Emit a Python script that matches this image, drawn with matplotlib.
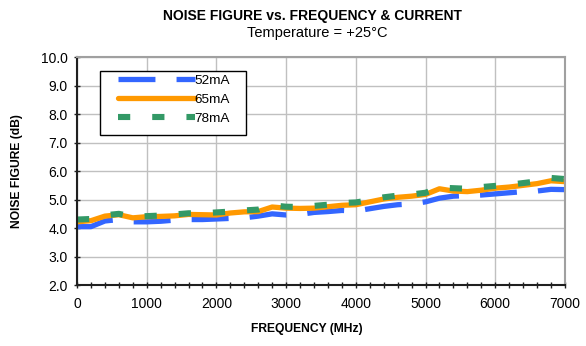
#!/usr/bin/env python3

import matplotlib
matplotlib.use('Agg')
import matplotlib.pyplot as plt
from matplotlib.patches import Rectangle
from matplotlib.ticker import MultipleLocator

plt.rcParams['font.family'] = ['Liberation Sans', 'DejaVu Sans']

freq_mhz = [0, 200, 400, 600, 800, 1000, 1200, 1400, 1600, 1800,
            2000, 2200, 2400, 2600, 2800, 3000, 3200, 3400, 3600, 3800,
            4000, 4200, 4400, 4600, 4800, 5000, 5200, 5400, 5600, 5800,
            6000, 6200, 6400, 6600, 6800, 7000]

nf_52ma = [4.05, 4.05, 4.25, 4.30, 4.22, 4.22, 4.24, 4.28, 4.30, 4.30,
           4.32, 4.34, 4.36, 4.42, 4.50, 4.46, 4.48, 4.55, 4.58, 4.62,
           4.60, 4.68, 4.76, 4.82, 4.85, 4.92, 5.05, 5.12, 5.14, 5.16,
           5.20, 5.24, 5.28, 5.30, 5.36, 5.35]

nf_65ma = [4.22, 4.26, 4.42, 4.47, 4.36, 4.40, 4.41, 4.43, 4.48, 4.47,
           4.46, 4.53, 4.57, 4.58, 4.74, 4.70, 4.69, 4.70, 4.75, 4.80,
           4.82, 4.92, 5.02, 5.08, 5.12, 5.18, 5.38, 5.30, 5.28, 5.33,
           5.40, 5.44, 5.50, 5.56, 5.66, 5.63]

nf_78ma = [4.30, 4.32, 4.45, 4.50, 4.40, 4.42, 4.44, 4.48, 4.52, 4.52,
           4.55, 4.58, 4.62, 4.65, 4.80, 4.75, 4.74, 4.78, 4.82, 4.88,
           4.90, 4.98, 5.08, 5.14, 5.18, 5.24, 5.42, 5.40, 5.38, 5.44,
           5.48, 5.52, 5.58, 5.64, 5.76, 5.72]

fig = plt.figure(figsize=(5.86, 3.46), dpi=100)
ax = fig.add_axes([0.1314, 0.176, 0.8326, 0.659])

ax.plot(freq_mhz, nf_52ma, color='#3366FF', lw=3.8, dashes=(7, 4),
        solid_capstyle='butt', dash_capstyle='butt', label='52mA')
ax.plot(freq_mhz, nf_65ma, color='#FF9900', lw=3.8,
        solid_capstyle='round', label='65mA')
ax.plot(freq_mhz, nf_78ma, color='#339966', lw=4.4, dashes=(2, 3.6),
        dash_capstyle='butt', label='78mA')

ax.set_xlim(0, 7000)
ax.set_ylim(2.0, 10.0)
ax.xaxis.set_major_locator(MultipleLocator(1000))
ax.xaxis.set_minor_locator(MultipleLocator(200))
ax.yaxis.set_major_locator(MultipleLocator(1.0))
ax.yaxis.set_major_formatter(plt.FormatStrFormatter('%.1f'))

ax.grid(True, which='major', color='#C0C0C0', lw=1.0)
ax.set_axisbelow(True)

for side in ('top', 'right'):
    ax.spines[side].set_color('#A0A0A0')
    ax.spines[side].set_linewidth(1.5)
for side in ('left', 'bottom'):
    ax.spines[side].set_color('#202020')
    ax.spines[side].set_linewidth(1.5)

ax.tick_params(axis='both', which='major', labelsize=10, length=5,
               width=1, color='#202020', direction='inout')
ax.tick_params(axis='x', which='minor', direction='inout', length=4,
               width=1, color='#202020')
ax.tick_params(axis='x', which='major', pad=6)
ax.tick_params(axis='y', which='major', pad=4)

ax.set_xlabel('FREQUENCY (MHz)', fontsize=8.7, fontweight='bold')
ax.set_ylabel('NOISE FIGURE (dB)', fontsize=8.7, fontweight='bold')
ax.xaxis.set_label_coords(0.47, -0.167)
ax.yaxis.set_label_coords(-0.111, 0.5)

fig.text(0.533, 0.954, 'NOISE FIGURE vs. FREQUENCY & CURRENT',
         ha='center', va='center', fontsize=10, fontweight='bold')
fig.text(0.541, 0.905, 'Temperature = +25\u00b0C',
         ha='center', va='center', fontsize=10.5)

# legend box drawn separately so its padding can be uneven
ax.add_patch(Rectangle((0.047, 0.658), 0.299, 0.281, transform=ax.transAxes,
                       facecolor='white', edgecolor='black', lw=1.0,
                       zorder=4))
leg = ax.legend(loc='upper left', bbox_to_anchor=(0.084, 0.924),
                fontsize=9.7, handlelength=5.7, handletextpad=0.0,
                borderpad=0, labelspacing=0.5, frameon=False,
                borderaxespad=0)
leg.set_zorder(5)

fig.savefig('out.png', dpi=100)
